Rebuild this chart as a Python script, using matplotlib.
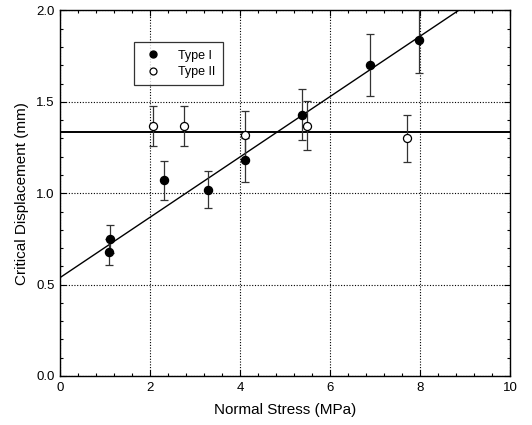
import numpy as np
import matplotlib
matplotlib.use("Agg")
import matplotlib.pyplot as plt
from matplotlib.ticker import MultipleLocator, FormatStrFormatter
from matplotlib.lines import Line2D

plt.rcParams['font.family'] = ['Liberation Sans', 'DejaVu Sans']

# Type I specimens
stress_1 = [1.10, 1.08, 2.30, 3.27, 4.10, 5.37, 6.88, 7.98]
disp_1 = [0.75, 0.68, 1.07, 1.02, 1.18, 1.43, 1.70, 1.84]
err_1 = [0.075, 0.07, 0.105, 0.10, 0.12, 0.14, 0.17, 0.18]

# Type II specimens
stress_2 = [2.05, 2.75, 4.11, 5.49, 7.70]
disp_2 = [1.37, 1.37, 1.32, 1.37, 1.30]
err_2 = [0.11, 0.11, 0.13, 0.135, 0.13]

# linear fit for Type I, constant level for Type II
fit_intercept = 0.54
fit_slope = 0.165
type2_level = 1.335

fig = plt.figure(figsize=(5.32, 4.25), dpi=100)
ax = fig.add_axes([0.1137, 0.1153, 0.8453, 0.86])

ax.errorbar(stress_1, disp_1, yerr=err_1, fmt='o', color='black', ms=5.8,
            ecolor='#333333', elinewidth=0.9, capsize=3, capthick=0.9,
            zorder=3)
ax.errorbar(stress_2, disp_2, yerr=err_2, fmt='o', color='black', mfc='white',
            mec='black', mew=0.9, ms=5.8, ecolor='#333333', elinewidth=0.9,
            capsize=3, capthick=0.9, zorder=3)

xs = np.array([0, 10])
ax.plot(xs, fit_intercept + fit_slope * xs, color='black', lw=1.0, zorder=2)
ax.axhline(type2_level, color='black', lw=1.4, zorder=2)

ax.set_xlim(0, 10)
ax.set_ylim(0, 2.0)
ax.xaxis.set_major_locator(MultipleLocator(2))
ax.xaxis.set_minor_locator(MultipleLocator(0.4))
ax.yaxis.set_major_locator(MultipleLocator(0.5))
ax.yaxis.set_minor_locator(MultipleLocator(0.1))
ax.yaxis.set_major_formatter(FormatStrFormatter('%.1f'))

ax.tick_params(which='both', direction='in', top=True, right=True,
               labelsize=9.5, width=0.8)
ax.tick_params(which='major', length=4, pad=4)
ax.tick_params(which='minor', length=2.5)
ax.grid(True, which='major', color='black', linestyle=(0, (1, 1.5)), lw=0.8)

for s in ax.spines.values():
    s.set_linewidth(1.0)

ax.set_xlabel('Normal Stress (MPa)', fontsize=11, labelpad=7)
ax.set_ylabel('Critical Displacement (mm)', fontsize=11, labelpad=5)

# legend shows plain markers only
handles = [
    Line2D([], [], ls='none', marker='o', color='black', ms=5),
    Line2D([], [], ls='none', marker='o', mfc='white', mec='black', mew=0.9, ms=5),
]
leg = ax.legend(handles, ['Type I', 'Type II'], loc='upper left',
                bbox_to_anchor=(134 / 532, 1 - 42 / 425),
                bbox_transform=fig.transFigure, borderaxespad=0,
                fontsize=9, frameon=True, fancybox=False, edgecolor='black',
                handletextpad=1.1, borderpad=0.6, handlelength=1.8,
                labelspacing=0.35)
leg.get_frame().set_linewidth(0.9)

fig.savefig('out.png', dpi=100)
